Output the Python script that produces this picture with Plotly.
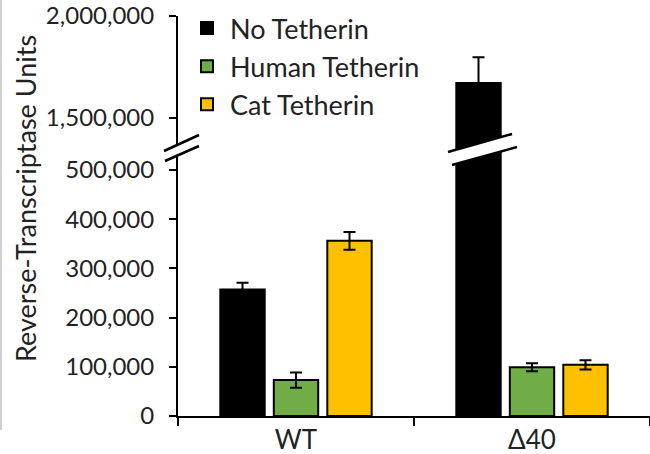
import plotly.graph_objects as go

categories = ["WT", "Δ40"]
series_names = ["No Tetherin", "Human Tetherin", "Cat Tetherin"]
no_tetherin = [257000, 1671000]
no_tetherin_err = [14000, 127000]
human_tetherin = [73000, 99000]
human_tetherin_err = [15500, 8000]
cat_tetherin = [356000, 104000]
cat_tetherin_err = [18000, 9500]
colors = ["#000000", "#70AD47", "#FFC000"]

lower_ticks = [0, 100000, 200000, 300000, 400000, 500000]
upper_ticks = [1500000, 2000000]

FONT = "Lato"
W, H = 650, 454
ML, MR, MT, MB = 178, 0, 16, 454 - 416
PW, PH = W - ML - MR, H - MT - MB

def px(x):  # pixel -> paper
    return (x - 178) / PW

def py(y):
    return (416 - y) / PH

split = py(150)

fig = go.Figure()
values = [no_tetherin, human_tetherin, cat_tetherin]
errors = [no_tetherin_err, human_tetherin_err, cat_tetherin_err]
for yax, show in (("y", True), ("y2", False)):
    for name, vals, errs, col in zip(series_names, values, errors, colors):
        fig.add_trace(go.Bar(
            x=categories, y=vals, name=name, yaxis=yax, showlegend=show,
            legendgroup=name,
            marker=dict(color=col, line=dict(color="#000000", width=2)),
            error_y=dict(type="data", array=errs, color="#000000",
                         thickness=2, width=6),
        ))

axis_common = dict(showline=True, linecolor="#000000", linewidth=2,
                   ticks="outside", ticklen=7, tickwidth=2, tickcolor="#000000",
                   showgrid=False, zeroline=False, tickformat=",",
                   tickfont=dict(family=FONT, size=24, color="#222222"),
                   ticklabelstandoff=10, ticklabeloverflow="allow")

fig.update_layout(
    width=W, height=H,
    margin=dict(l=ML, r=MR, t=MT, b=MB, autoexpand=False),
    paper_bgcolor="white", plot_bgcolor="white",
    barmode="group", bargap=0.32, bargroupgap=0.17,
    font=dict(family=FONT, color="#222222"),
    xaxis=dict(showline=True, linecolor="#000000", linewidth=2,
               ticks="outside", tickson="boundaries", ticklen=8, tickwidth=2,
               tickcolor="#000000",
               tickfont=dict(family=FONT, size=26, color="#222222"),
               anchor="y"),
    yaxis=dict(domain=[0, split], range=[0, 540650],
               tickvals=lower_ticks, **axis_common),
    yaxis2=dict(domain=[split, 1], range=[1343100, 2000000],
                tickvals=upper_ticks, anchor="x", **axis_common),
    legend=dict(x=px(184), y=py(4), xanchor="left", yanchor="top",
                font=dict(family=FONT, size=27, color="#222222"),
                itemwidth=36, tracegroupgap=0, bgcolor="rgba(0,0,0,0)"),
    annotations=[dict(text="Reverse-Transcriptase Units", textangle=-90,
                      xref="paper", yref="paper", x=px(25), y=py(199),
                      xanchor="center", yanchor="middle", showarrow=False,
                      font=dict(family=FONT, size=27, color="#222222"))],
)

def band(p1, p2, p3, p4):
    return (f"M {px(p1[0])},{py(p1[1])} L {px(p2[0])},{py(p2[1])} "
            f"L {px(p3[0])},{py(p3[1])} L {px(p4[0])},{py(p4[1])} Z")

shapes = []
breaks = [((164, 151), (199, 135), (165, 161), (199, 146)),
          ((448, 152), (512, 134), (452, 165), (517, 147))]
for a, b, c, d in breaks:
    shapes.append(dict(type="path", xref="paper", yref="paper",
                       path=band(a, b, d, c), fillcolor="white",
                       line=dict(width=0), layer="above"))
    for p, q in ((a, b), (c, d)):
        shapes.append(dict(type="line", xref="paper", yref="paper",
                           x0=px(p[0]), y0=py(p[1]), x1=px(q[0]), y1=py(q[1]),
                           line=dict(color="#000000", width=2.5), layer="above"))
shapes.append(dict(type="line", xref="paper", yref="paper",
                   x0=px(1), x1=px(1), y0=py(0), y1=py(430),
                   line=dict(color="#c0c0c0", width=1.5), layer="above"))
fig.update_layout(shapes=shapes)

fig.write_html("out.html", config={"displayModeBar": False},
               post_script="document.body.style.margin='0';"
                           "document.body.style.overflow='hidden';")
